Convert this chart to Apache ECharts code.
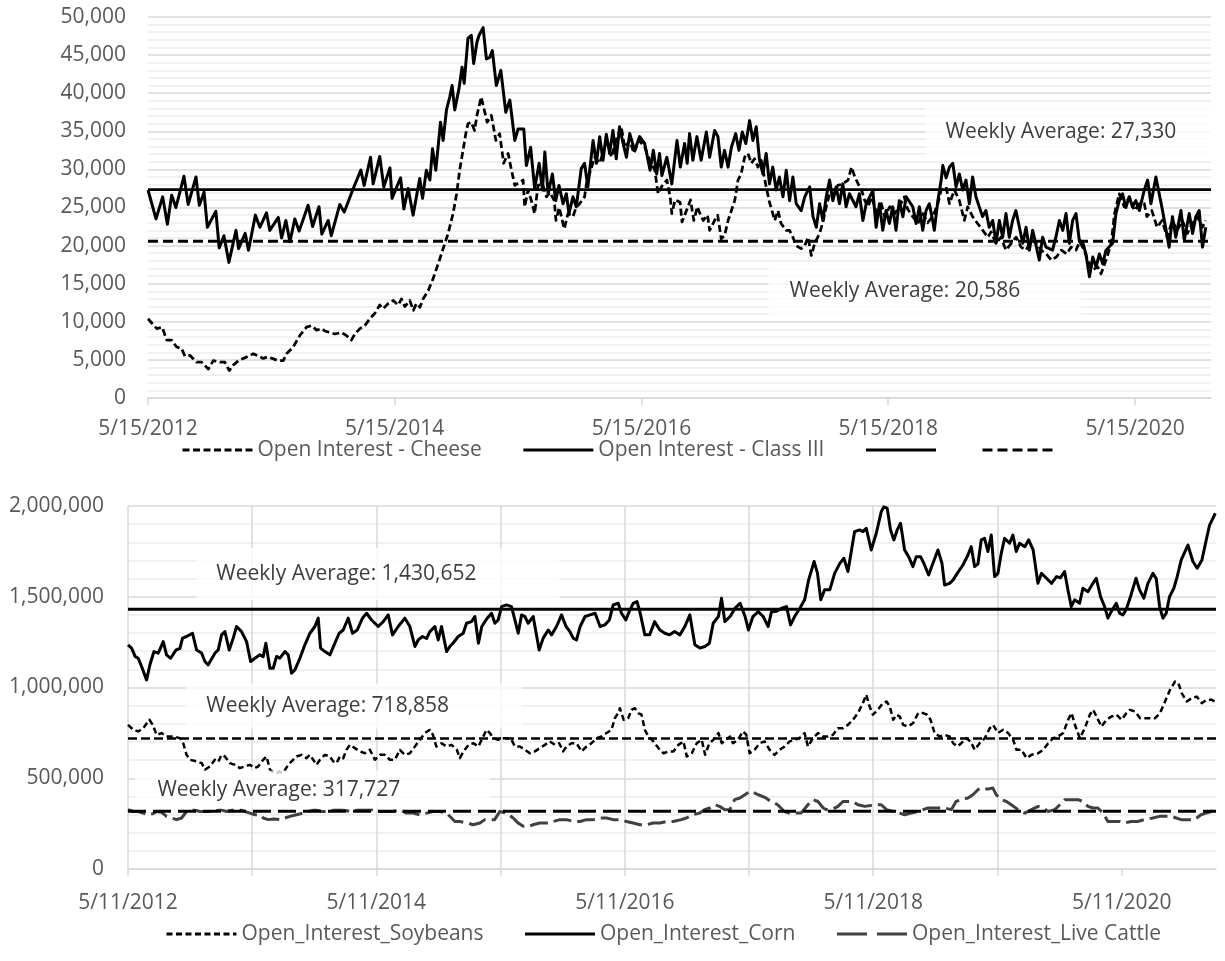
<!DOCTYPE html>
<html>
<head>
<meta charset="utf-8">
<script src="https://cdn.jsdelivr.net/npm/echarts@6/dist/echarts.min.js"></script>
<style>
  html, body { margin: 0; background: #fff; }
  #chart { width: 1225px; height: 961px; }
</style>
</head>
<body>
<div id="chart"></div>
<script>
/* ── top panel: cheese / class III open interest, weekly from 5/15/2012 ── */
const TOP_START = [2012, 5, 15]
const TOP_TICKS = ['5/15/2012', '5/15/2014', '5/15/2016', '5/15/2018', '5/15/2020']
const TOP_MAX_WEEK = 449.5
const AVG_CLASS3 = 27330
const AVG_CHEESE = 20586

// [week since start, contracts in thousands]
const CHEESE = [
  [0,10.4],[3.7,9.1],[6,9.3],[7.9,7.6],[10,7.6],[12.1,6.7],[14.2,6.5],[15.6,5.5],[17.7,5.6],[20.6,4.7],
  [22.7,4.7],[25.5,3.8],[27.6,4.9],[30.4,4.7],[32.5,4.7],[34.4,3.6],[36,4.3],[38.6,5.0],[40.3,5.2],[42.4,5.5],
  [44.5,5.8],[46.6,5.5],[48.7,5.2],[50.7,5.4],[52.5,5.2],[55,4.9],[57.2,4.9],[58.6,5.8],[61.4,6.7],[64.2,8.2],
  [67,9.3],[69.2,9.5],[71.3,8.9],[73.4,9.1],[74.8,8.8],[76.9,8.6],[79,8.4],[81.8,8.6],[83.9,8.2],[86,7.6],
  [87.5,8.4],[89.6,9.1],[91.7,9.5],[93.8,10.4],[95.9,11.1],[98,12.2],[99.4,11.7],[101.6,12.4],[103.7,12.8],[105.8,12.2],
  [107.2,13.0],[108.6,12.0],[110.7,12.8],[112.2,11.5],[113.5,12.4],[115,11.9],[116.3,13.0],[118.5,14.1],[120.6,15.7],[122.7,17.6],
  [124.8,19.6],[126.9,21.6],[129,24.2],[130.5,26.8],[131.8,29.9],[133.2,32.5],[134.4,34.7],[135.3,36.0],[136.7,36.2],[138.1,35.1],
  [139.1,37.1],[140.9,39.5],[141.9,38.2],[143.4,36.2],[145.2,37.1],[147.1,33.8],[148.7,34.7],[150.4,30.8],[152.3,32.1],[153.7,29.9],
  [155.1,27.9],[157,28.3],[158.6,28.6],[159.3,25.1],[160.7,27.3],[162.1,25.9],[163.5,24.2],[164.9,27.9],[166.8,28.1],[168.5,26.4],
  [170,27.0],[171.8,25.9],[172.5,23.3],[173.9,25.0],[176,22.2],[177.6,24.2],[179.7,23.8],[181,25.0],[182.5,25.5],[184.6,26.4],
  [185.4,28.1],[188.9,31.6],[191,30.8],[194,33.8],[196,31.6],[197.9,33.8],[200.1,35.6],[201.6,32.9],[203.7,33.8],[205.5,32.1],
  [207.6,33.8],[210,33.0],[212.1,31.2],[214.3,29.9],[215.7,26.8],[217.1,27.7],[219.4,28.6],[220.8,26.4],[221.5,24.2],[222.9,26],
  [225,25.7],[225.8,23.1],[227.7,24.6],[229.4,26],[230.8,23.3],[232.3,25.1],[233.4,24.2],[234.8,23.3],[236.6,24.0],[237.5,22],
  [239.6,23.3],[240.9,24.0],[242.4,20.9],[243.8,21.3],[245.3,23.3],[246.7,24.6],[248.1,25.9],[249.5,28.6],[250.8,29.4],[252.3,31.6],
  [253.7,32.1],[255.1,30.8],[256.5,31.4],[257.9,30.3],[259.3,31.2],[261.4,27.7],[262.8,25.7],[264.2,24.2],[265,23.3],[266.4,24.6],
  [267.7,22.9],[269.9,22.0],[271.3,22],[272.7,21.1],[274.1,20.0],[276.2,19.6],[277.7,20.0],[279.1,21.1],[280.5,18.7],[281.9,20.3],
  [284,21.6],[285.4,23.1],[286.8,25.1],[288.2,26.8],[289.6,26.4],[291.7,27.9],[293.8,28.1],[296,28.6],[297.5,30.3],[298.9,29],
  [300.3,28.1],[301.7,27.3],[303.1,25.9],[304.5,25.1],[305.9,26.4],[307.3,25.1],[308.7,23.8],[310.1,25.5],[311.5,23.8],[313.7,25.1],
  [315.8,24.2],[317.7,25.1],[319.8,26.4],[321.2,24.8],[323.4,23.8],[325.5,22.9],[327.6,24.2],[329.7,23.0],[331.8,23.8],[334,25.5],
  [335.4,27.3],[337.5,27.7],[338.9,25.5],[341,27.3],[343.1,25.9],[345.2,23.3],[346.6,25.1],[348.7,23.8],[350.8,22.9],[353,22],
  [355.1,21.1],[356.5,21.8],[358.6,20.3],[360.7,21.1],[362.8,19.4],[365,20.3],[367.1,21.1],[369.2,19.8],[371.3,19.4],[373.5,20.7],
  [375.6,20.3],[377.7,19.4],[379.9,18.9],[382,18.1],[384.1,18.5],[386.2,19.4],[388.5,18.9],[390.3,19.8],[392.4,19.4],[394,20.5],
  [395.9,19.4],[397.3,18.1],[399.5,16.8],[401.6,17.2],[403,16.3],[405.1,18.1],[407.3,20.3],[408.7,24.2],[410.7,26.8],[412.8,25.1],
  [415,26.4],[417.1,24.6],[419.2,25.5],[421.3,25.5],[422.4,23.8],[424.5,24.6],[426.7,22.4],[428.8,23.3],[431,21.1],[433.1,23.3],
  [435.2,22],[437.4,23.3],[439.5,21.6],[441.6,22.9],[443.7,23.8],[445.9,22.4],[447.2,23.3]
]

const CLASS3 = [
  [0,27.3],[3.4,23.5],[6.2,26.4],[8.2,22.8],[10,26.6],[11.8,25.0],[15.2,29.1],[17,25.4],[20.3,29.0],[21.7,25.3],
  [23.7,27.0],[25.1,22.4],[28.7,24.5],[30.1,19.7],[32.1,21.3],[34.2,17.8],[37.2,22.0],[38.3,19.6],[41.1,21.6],[42.5,19.4],
  [45.4,24.0],[47.3,22.4],[50.1,24.3],[51.5,22.0],[55.1,23.7],[56.5,21.0],[58.3,23.3],[60,20.5],[62.1,23.5],[63.9,21.9],
  [67.7,25.3],[69.6,22.5],[72.3,25.1],[73.5,21.5],[76.2,23.3],[77.5,21.3],[81.1,25.4],[83,24.4],[86.8,27.5],[90,29.9],
  [91.4,27.9],[94.1,31.6],[95.2,28.1],[98,31.7],[99.7,27.7],[102.3,30.2],[103.2,26.2],[106.8,28.9],[108.2,24.8],[110,27.5],
  [112.1,24.0],[114.9,28.8],[116.1,26.2],[117.7,29.9],[119.2,28.6],[120.3,32.7],[121.7,29.9],[123.7,36.2],[124.8,33.8],[126.2,37.8],
  [127.6,39.5],[128.6,41.0],[129.7,37.8],[131.5,40.6],[132.8,43.4],[133.7,41.3],[135.3,47.2],[136.7,47.6],[137.7,43.9],[139.1,46.7],
  [140,47.6],[141.7,48.6],[143.1,44.5],[144.5,44.7],[145.6,45.6],[147.3,41.0],[149.2,43.0],[151.3,37.5],[153,39.1],[155.1,33.8],
  [156.5,35.3],[158.9,35.3],[160,30.5],[161.8,32.9],[163.5,27.5],[165.4,30.8],[166.8,27.3],[167.8,32.3],[169.2,26.8],[171,29.4],
  [172.4,25.9],[173.8,27.9],[175.5,25.5],[176.9,26.8],[178,24.2],[179.7,26.4],[181.1,25.1],[183.2,30.1],[184.6,30.8],[186,27.7],
  [188.2,33.8],[189.6,30.8],[191,34.3],[192.4,31.2],[193.8,34.6],[195.2,32.1],[196.6,35.1],[198,31.4],[199.4,35.6],[200.9,33.4],
  [202.3,31.6],[203.7,34.7],[205.8,32.5],[207.9,34.3],[210,33.4],[212.3,29.9],[213.7,32.5],[215.1,29.4],[216.3,32.1],[217.3,29.2],
  [219.4,31.6],[221.5,28.1],[223.7,33.8],[225.1,30.3],[226.9,33.4],[228,30.8],[229,34.7],[230.4,31.2],[232.1,34.3],[233.9,31.2],
  [236.1,34.9],[237.5,31.6],[239.6,35.1],[241,34.3],[242.4,30.3],[243.8,32.5],[245.3,30.3],[246.7,32.9],[248.5,34.7],[249.9,32.5],
  [251.3,34.9],[252.8,33.4],[254.4,36.4],[255.8,33.8],[257.2,35.6],[258.6,31.2],[260,29.4],[261.4,32.1],[262.8,28.1],[264.2,30.3],
  [265.6,27.3],[267,29],[268.5,26.4],[269.9,29.9],[271.3,25.9],[272.7,29],[274.1,25.5],[276.2,24.6],[277.7,26.4],[279.8,27.7],
  [281.2,23.8],[282.6,22.4],[284,25.5],[285.4,23.3],[286.8,26.4],[288.2,28.6],[289.6,25.9],[291,27.7],[292.4,25.5],[293.8,28.1],
  [295.2,25.1],[296.6,26.8],[299.4,25.1],[300.8,26.8],[302.3,23.3],[303.7,25.5],[306.5,27.2],[307.9,22.4],[309.3,25.5],[310.7,22.0],
  [312.1,24.6],[313.5,22.9],[314.9,25.1],[316.3,22],[317.7,25.9],[319.2,23.8],[320.6,26.4],[323.4,25.1],[324.8,22.9],[326.2,25.1],
  [327.6,22.0],[329,24.6],[330.4,25.5],[331.8,23.3],[332.5,22],[334,25.9],[335.4,28.6],[336.1,30.5],[337.5,28.9],[338.9,30.3],
  [340.3,30.8],[341.7,27.7],[343.1,29.4],[344.5,27.3],[345.9,28.6],[347.3,25.5],[348.7,29],[350.1,26.4],[352.9,23.8],[354.3,24.6],
  [355.7,22.4],[357.2,23.3],[358.6,20.3],[360,23.3],[361.4,21.1],[362.8,24.2],[364.2,21.1],[365.6,23.3],[367,24.6],[369.9,20.3],
  [371.3,22.4],[372.7,19.4],[374.1,22.0],[376.9,18.1],[378.3,21.1],[379.7,19.8],[382.5,19.4],[383.9,21.1],[385.4,23.3],[386.8,22],
  [388.2,24.2],[389.6,20.3],[391,23.3],[392.4,24.2],[393.8,20.7],[395.2,20.5],[396.6,18.9],[398.1,15.9],[399.5,18.5],[400.9,17.2],
  [402.3,18.9],[403.7,17.6],[405.1,19.4],[407.9,20.3],[409.3,24.2],[410.7,25.9],[412.1,26.8],[413.5,25],[414.9,26.4],[416.3,25.1],
  [417.7,25.9],[419.2,24.6],[421.3,27.3],[422.7,28.6],[424.1,25.5],[426.2,29],[429,24.6],[431.8,19.8],[433.2,23.8],[434.6,21.1],
  [436.8,24.6],[438.2,20.7],[440.3,24.2],[441.7,21.6],[443.1,23.8],[444.5,24.6],[445.9,19.8],[447.3,22.4]
]

/* ── bottom panel: soybeans / corn / live cattle, weekly from 5/11/2012 ── */
const BOT_START = [2012, 5, 11]
const BOT_TICKS = ['5/11/2012', '5/11/2013', '5/11/2014', '5/11/2015', '5/11/2016',
                   '5/11/2017', '5/11/2018', '5/11/2019', '5/11/2020']   // yearly, even years labelled
const BOT_MAX_WEEK = 457
const AVG_SOY = 718858
const AVG_CORN = 1430652
const AVG_CATTLE = 317727

const SOYBEANS = [
  [0,794],[2.2,767],[4.3,758],[6.4,776],[9,822],[10.4,794],[12,739],[14.1,749],[16.2,730],[19,730],
  [21.8,721],[23.2,693],[24.6,629],[26,602],[28.8,593],[31,583],[32.3,547],[34.4,565],[36.5,602],[37.9,590],
  [39.3,629],[40.7,620],[42.8,583],[44.9,574],[47,556],[49.1,565],[51.2,574],[53.3,556],[54.7,565],[56.8,602],
  [58.2,620],[59.6,548],[61.5,525],[63.5,535],[65.2,530],[67.3,574],[68.7,593],[70.8,620],[72.9,629],[75,611],
  [76.4,629],[77.8,602],[79.2,574],[80.6,602],[82.7,629],[84.8,620],[86.2,593],[87.6,583],[89,620],[90.4,610],
  [91.8,657],[93.2,684],[95.3,666],[97.4,648],[99.5,638],[101.6,657],[103.7,602],[105.8,629],[107.9,629],[110,602],
  [112.1,602],[114.2,657],[116.3,629],[118.4,638],[120.5,675],[122.6,712],[124.7,749],[126.8,767],[128.1,739],[129.5,675],
  [131.7,693],[133.8,675],[135.9,684],[138.1,657],[139.4,611],[140.9,648],[143,684],[145.1,693],[147.2,675],[149.2,730],
  [150.6,767],[152,749],[153.4,721],[155.5,712],[156.9,721],[159,721],[161.1,712],[162.5,675],[164.6,675],[166.7,657],
  [168.8,638],[170.9,648],[173,666],[175.1,684],[177.2,703],[179.3,684],[181.1,693],[182.8,648],[184.2,675],[186.3,693],
  [188.4,693],[190.5,648],[192.6,675],[194.7,693],[196.8,721],[198.9,730],[201,749],[203.1,767],[204.5,831],[205.9,859],
  [206.6,886],[208.2,822],[210.1,831],[211.5,877],[212.9,886],[214.3,859],[215.7,850],[217.1,767],[218.6,730],[220.7,703],
  [222.8,666],[224.9,638],[227,648],[229.1,648],[231.2,684],[233.3,703],[234.7,620],[236.8,638],[238.9,693],[241,712],
  [242.4,629],[244.2,693],[245.9,712],[248,749],[249.4,693],[251.1,712],[252.9,730],[254.1,693],[256.2,712],[258.3,758],
  [259.7,740],[261.1,638],[263.2,657],[265.3,693],[267.4,703],[269.5,657],[271.6,629],[273.7,657],[275.8,675],[277.9,703],
  [280,712],[282.1,721],[284.2,749],[285.6,675],[287.7,721],[289.8,749],[291.9,730],[294,730],[296.1,739],[298.2,776],
  [300.3,776],[302.4,794],[304.5,822],[306.6,859],[308.7,914],[310.1,960],[311.5,895],[312.9,850],[315,877],[317.1,914],
  [318.6,923],[320,895],[321.4,822],[322.8,850],[324.2,840],[325.6,794],[327.7,785],[329.8,804],[331.9,859],[334,859],
  [335.7,850],[337.1,822],[338.8,749],[340.9,730],[343,739],[345.1,730],[346.6,693],[348.4,675],[350,693],[352.1,721],
  [353.9,703],[355.6,657],[357.7,693],[359.9,721],[362,776],[363.4,794],[365.4,749],[367.6,767],[369.7,749],[371.8,712],
  [373.2,657],[375.3,657],[377.4,611],[379.5,629],[382.3,638],[384.4,657],[386.5,693],[388.6,721],[390.7,730],[392.8,749],
  [394.9,822],[396.3,859],[398,785],[399.8,721],[401.9,776],[404,850],[405.4,877],[406.8,840],[408.9,785],[411,822],
  [413.1,840],[415.2,850],[417.3,822],[419.4,859],[420.8,877],[423,868],[425.1,831],[427.2,831],[429.3,831],[431.4,831],
  [433.5,859],[435.6,923],[437.7,987],[439.8,1033],[441.2,1024],[442.6,969],[444.7,923],[446.8,941],[448.9,950],[451,914],
  [453.1,932],[455.2,932],[456.6,923]
]

const CORN = [
  [0,1235],[1.5,1217],[3,1171],[4.3,1161],[5.7,1116],[7.8,1042],[9.2,1125],[10.9,1198],[12.7,1189],[14.8,1253],
  [16.2,1180],[17.9,1161],[20.2,1207],[21.8,1215],[22.9,1272],[24.6,1281],[27.1,1299],[28.8,1207],[30.9,1190],[32.3,1143],
  [33.7,1125],[36.5,1189],[37.9,1207],[39.3,1290],[40.7,1308],[42.5,1207],[44.2,1272],[45.6,1336],[47.7,1308],[49.8,1253],
  [51.5,1143],[53.3,1161],[55.4,1180],[56.8,1170],[57.9,1244],[59.6,1106],[61,1106],[62.4,1171],[63.8,1162],[65.9,1198],
  [67.3,1180],[68.7,1079],[70.1,1097],[72.2,1161],[74.3,1235],[76.4,1299],[78.5,1336],[79.9,1382],[80.9,1217],[82.7,1198],
  [84.8,1180],[86.9,1244],[88.7,1299],[90.4,1317],[92.5,1382],[94.3,1299],[96.3,1317],[98.5,1382],[100.2,1409],[102.3,1372],
  [105.1,1336],[107.2,1363],[109.3,1400],[111.1,1290],[113.5,1336],[116.3,1382],[118.4,1336],[120.5,1226],[121.9,1262],[123.7,1281],
  [125.4,1270],[126.8,1308],[128.9,1336],[130.3,1262],[131.7,1336],[133.8,1198],[135.2,1226],[136.6,1245],[138.7,1281],[140.8,1299],
  [142.2,1354],[144.3,1363],[145.7,1391],[147.2,1244],[148.6,1336],[150.9,1382],[152.7,1409],[154.1,1354],[155.5,1372],[156.9,1446],
  [159,1455],[161.1,1446],[162.5,1372],[163.9,1299],[165.3,1400],[166.7,1391],[168.1,1354],[170.2,1391],[172.7,1207],[174.4,1272],
  [176.5,1317],[177.9,1290],[180,1336],[182.1,1400],[184,1336],[185.6,1308],[187,1272],[188.4,1262],[189.9,1336],[192,1391],
  [194.1,1400],[196.2,1409],[198.3,1336],[200.3,1345],[202.2,1372],[203.8,1455],[205.9,1464],[207.3,1409],[209.1,1372],[210.5,1418],
  [212.2,1464],[213.8,1473],[215,1418],[217.1,1290],[219.1,1290],[221.2,1363],[223.4,1317],[225.5,1299],[227.5,1290],[229.6,1308],
  [231.8,1290],[233.9,1336],[236,1400],[238.1,1235],[240.2,1217],[242.3,1226],[244.2,1244],[245.8,1354],[248,1391],[249.3,1492],
  [250.7,1363],[252.9,1391],[255,1437],[257.1,1464],[259.2,1391],[260.6,1317],[262.5,1391],[264.7,1418],[266.8,1391],[268.9,1336],
  [270.3,1418],[272.4,1420],[274.5,1437],[276.6,1446],[278.3,1345],[280,1391],[282.2,1437],[284.2,1483],[285.9,1593],[288.2,1694],
  [289.6,1630],[291,1483],[292.6,1538],[294.8,1538],[296.8,1629],[299,1684],[300.7,1712],[302.4,1639],[305.2,1859],[307.3,1868],
  [308.7,1859],[310.1,1877],[312.2,1758],[314.3,1850],[316.4,1969],[317.5,1996],[318.9,1987],[320.3,1868],[321.7,1813],[323.1,1868],
  [324.5,1905],[326.2,1758],[327.9,1721],[329.7,1666],[331.1,1721],[332.9,1721],[334.3,1684],[336.3,1620],[338.1,1684],[340.2,1758],
  [341.9,1684],[343,1565],[345.1,1574],[346.6,1593],[348.3,1629],[350.7,1675],[352.8,1730],[354.2,1776],[355.6,1666],[357,1680],
  [358.4,1813],[359.8,1822],[361.2,1749],[362.6,1840],[364,1611],[365.4,1629],[366.8,1739],[368.2,1822],[370.3,1795],[371.7,1840],
  [373.1,1749],[374.5,1795],[376.7,1776],[378.3,1813],[380.2,1758],[382.2,1574],[383.7,1629],[385.8,1602],[387.9,1574],[390,1611],
  [391.7,1605],[393.4,1639],[394.8,1538],[396.2,1446],[397.6,1483],[399.7,1464],[401.1,1547],[403.2,1528],[405.3,1574],[406.7,1602],
  [408.5,1501],[410.2,1446],[411.6,1382],[413,1418],[415.1,1464],[416.5,1409],[417.9,1400],[419.3,1430],[421.3,1510],[423.4,1602],
  [424.9,1538],[426.7,1492],[428.4,1574],[430.5,1629],[431.9,1600],[433.3,1446],[434.7,1382],[436.1,1410],[437.5,1501],[439.3,1547],
  [440.7,1611],[442.4,1703],[445.2,1785],[447.3,1694],[449.1,1657],[451.1,1703],[452.9,1813],[454.3,1895],[455.7,1932],[456.7,1960]
]

const CATTLE = [
  [0,327],[2.2,317],[4.3,317],[6.4,308],[8.5,299],[10.5,305],[12,317],[14.1,312],[16.2,290],[18.3,281],
  [20.4,272],[22.5,281],[24.6,317],[27.4,327],[30.2,317],[33,317],[35.8,317],[38.6,327],[41.4,317],[44.2,327],
  [47,327],[49.1,317],[51.2,308],[53.3,299],[55.4,299],[56.8,281],[58.9,272],[61,275],[63.8,272],[65.9,281],
  [68,290],[70.8,299],[73.6,308],[75.7,317],[78.5,327],[81.3,317],[84.1,317],[86.9,327],[89.7,327],[93.2,317],
  [96.7,327],[100.2,327],[103,327],[105.8,317],[108.6,317],[111.4,317],[114.2,327],[117,308],[119.8,308],[122.5,299],
  [125.4,308],[128.1,317],[131,317],[133.8,308],[135.9,281],[137.3,262],[139.4,262],[142.7,253],[144.9,244],[147.8,253],
  [149.9,272],[151.9,272],[154,272],[156.2,317],[159,308],[161.8,281],[163.9,253],[166,235],[168.1,235],[170.5,245],
  [173,253],[175.8,253],[178.6,262],[181.4,272],[184.2,272],[187,262],[189.8,262],[192.6,272],[195.4,272],[198.2,281],
  [201,281],[203.8,272],[206.6,272],[209.4,262],[212.2,253],[215,244],[217.8,244],[220.6,253],[223.4,253],[226.2,262],
  [229,262],[232.4,272],[234.5,281],[237.3,299],[240.1,308],[242.2,327],[244.3,336],[246.4,354],[248.5,345],[250.7,327],
  [252.8,327],[254.8,382],[257,391],[259.1,409],[261.2,428],[263.3,418],[264.7,409],[267.5,395],[270.1,372],[272.9,354],
  [275.7,317],[277.8,308],[280.6,308],[282.7,308],[285.6,354],[287.7,382],[289.8,372],[292,336],[293.3,327],[296,330],
  [298.2,345],[300.3,372],[302.4,372],[304.5,372],[306.6,354],[309.4,345],[312,350],[314.4,354],[316.4,354],[318.6,327],
  [321.4,317],[324.2,308],[326.2,299],[329,308],[331.8,317],[334,327],[336,336],[338.1,336],[340.3,336],[343,336],
  [345.8,327],[347.8,372],[350,382],[352.8,391],[354.9,409],[357,437],[358.4,446],[361,440],[363.3,446],[364.7,409],
  [366.8,382],[369,372],[371,354],[373.9,327],[376.7,308],[379.5,327],[382.3,345],[384.4,336],[386.5,317],[389.3,327],
  [391.4,354],[393.5,382],[396.3,382],[399.1,382],[401.1,372],[403.2,345],[405.3,336],[407.4,336],[409.6,308],[411.6,262],
  [414,262],[416.4,262],[418.5,253],[421.3,262],[424.1,262],[426.9,272],[430,280],[433.3,290],[435.4,290],[438.2,290],
  [440.3,281],[442.4,272],[445.2,272],[448,272],[450.7,299],[452.8,308],[455,317],[456.4,327]
]

/* ── helpers ── */
const FONT = "'Open Sans', 'Noto Sans', sans-serif"
const GREY = '#595959'
const MAJOR = '#d9d9d9'
const MINOR = '#ededed'
const WEEK_MS = 7 * 864e5

function weeksFrom(start, mdy) {
  const [m, d, y] = mdy.split('/').map(Number)
  return (Date.UTC(y, m - 1, d) - Date.UTC(start[0], start[1] - 1, start[2])) / WEEK_MS
}
const fmt = v => v.toLocaleString('en-US')
const thousands = pts => pts.map(([w, v]) => [w, v * 1000])
const flat = (v, max) => [[0, v], [max, v]]
const labelAt = (pos, labels) => v => {
  const i = pos.findIndex(p => Math.abs(p - v) < 0.6)
  return i < 0 ? '' : labels[i]
}

const topTickPos = TOP_TICKS.map(t => weeksFrom(TOP_START, t))
const botTickPos = BOT_TICKS.map(t => weeksFrom(BOT_START, t))
const botLabels = BOT_TICKS.filter((_, i) => i % 2 === 0)
const botLabelPos = botTickPos.filter((_, i) => i % 2 === 0)

const txt = { color: GREY, fontSize: 21, fontFamily: FONT, lineHeight: 24 }

function xAxis(grid, max, interval, tickPos, labelPos, labels, margin, split) {
  return {
    gridIndex: grid, type: 'value', min: 0, max, interval,
    axisLine: { lineStyle: { color: MAJOR, width: 1.5 } },
    axisTick: { show: true, length: 7, customValues: tickPos, lineStyle: { color: MAJOR, width: 1.5 } },
    axisLabel: { ...txt, margin, customValues: labelPos, formatter: labelAt(labelPos, labels) },
    splitLine: { show: split, showMaxLine: false, lineStyle: { color: MAJOR, width: 1.5 } },
  }
}

function yAxis(grid, max, interval, margin) {
  return {
    gridIndex: grid, type: 'value', min: 0, max, interval,
    axisLine: { show: false }, axisTick: { show: false },
    axisLabel: { ...txt, margin, formatter: fmt },
    splitLine: { lineStyle: { color: MAJOR, width: 1.5 } },
    minorTick: { show: false, splitNumber: 5 },
    minorSplitLine: { show: true, lineStyle: { color: MINOR, width: 1.5 } },
  }
}

function line(name, grid, data, color, width, type, z = 2) {
  return {
    name, type: 'line', xAxisIndex: grid, yAxisIndex: grid, data,
    symbol: 'none', showSymbol: false, z, silent: true,
    lineStyle: { color, width, type, join: 'round', cap: 'butt' },
    itemStyle: { color },
  }
}

// white "Weekly Average" boxes, anchored at box left / middle in data units
function notes(grid, items) {
  return {
    type: 'scatter', xAxisIndex: grid, yAxisIndex: grid, z: 10, silent: true,
    symbolSize: 1, itemStyle: { color: 'transparent' },
    label: {
      show: true, position: 'right', distance: 0,
      backgroundColor: '#fff', color: '#0a0a0a', fontSize: 21, fontFamily: FONT, lineHeight: 24,
    },
    data: items.map(n => ({
      value: n.at,
      label: { formatter: 'Weekly Average: ' + fmt(n.avg), padding: n.pad },
    })),
  }
}

const legendBase = {
  padding: 0, itemWidth: 70, itemHeight: 14, itemGap: 40, selectedMode: false,
  textStyle: txt, lineStyle: { width: 3 }, itemStyle: { opacity: 0 },
}

const chart = echarts.init(document.getElementById('chart'), null, { renderer: 'canvas' })

chart.setOption({
  animation: false,
  backgroundColor: '#fff',
  grid: [
    { left: 148, top: 17, width: 1063, height: 381 },
    { left: 128, top: 506, width: 1088, height: 363 },
  ],
  xAxis: [
    xAxis(0, TOP_MAX_WEEK, 730.5 / 7, topTickPos, topTickPos, TOP_TICKS, 19, false),
    xAxis(1, BOT_MAX_WEEK, 365.25 / 7, botTickPos, botLabelPos, botLabels, 22, true),
  ],
  yAxis: [
    yAxis(0, 50000, 5000, 22),
    yAxis(1, 2000000, 500000, 24),
  ],
  legend: [
    {
      ...legendBase, left: 181, top: 438,
      data: ['Open Interest - Cheese', 'Open Interest - Class III', 'avgClass3', 'avgCheese'],
      formatter: n => n.startsWith('avg') ? '' : n,
    },
    {
      ...legendBase, left: 165, top: 922,
      data: [
        'Open_Interest_Soybeans',
        'Open_Interest_Corn',
        { name: 'Open_Interest_Live Cattle', lineStyle: { type: [30, 10] } },
      ],
    },
  ],
  series: [
    line('Open Interest - Cheese', 0, thousands(CHEESE), '#000', 2.75, [7, 3.5]),
    line('Open Interest - Class III', 0, thousands(CLASS3), '#000', 3, 'solid'),
    line('avgClass3', 0, flat(AVG_CLASS3, TOP_MAX_WEEK), '#000', 2.75, 'solid', 3),
    line('avgCheese', 0, flat(AVG_CHEESE, TOP_MAX_WEEK), '#000', 3, [10, 5], 3),
    notes(0, [
      { avg: AVG_CLASS3, at: [328.6, 34930], pad: [11.5, 35, 11.5, 20] },
      { avg: AVG_CHEESE, at: [262.2, 14000], pad: [12, 60, 12, 21] },
    ]),

    line('Open_Interest_Soybeans', 1, thousands(SOYBEANS), '#000', 2.5, [6, 3.5]),
    line('Open_Interest_Corn', 1, thousands(CORN), '#000', 3, 'solid'),
    line('Open_Interest_Live Cattle', 1, thousands(CATTLE), '#404040', 3, [18, 6]),
    line('avgSoy', 1, flat(AVG_SOY, BOT_MAX_WEEK), '#000', 2.5, [9, 4], 3),
    line('avgCorn', 1, flat(AVG_CORN, BOT_MAX_WEEK), '#000', 3, 'solid', 3),
    line('avgCattle', 1, flat(AVG_CATTLE, BOT_MAX_WEEK), '#000', 3, [18, 7], 3),
    notes(1, [
      { avg: AVG_CORN, at: [28.5, 1625600], pad: [14, 83, 14, 20] },
      { avg: AVG_SOY, at: [24.3, 896200], pad: [10.5, 73, 10.5, 20] },
      { avg: AVG_CATTLE, at: [2.9, 436500], pad: [11, 90, 3, 22] },
    ]),
  ],
})
</script>
</body>
</html>
